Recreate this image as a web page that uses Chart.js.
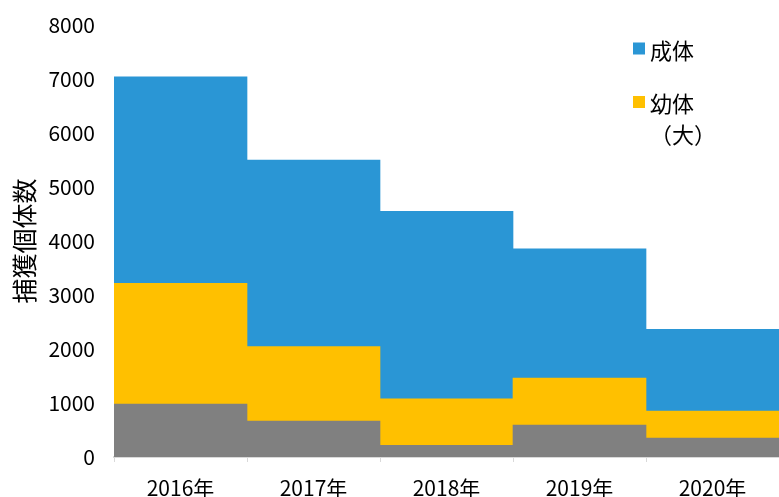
<!DOCTYPE html>
<html>
<head>
  <meta charset="utf-8">
  <title>捕獲個体数</title>
  <style>
    body {
      margin: 0;
      padding: 0;
      background-color: #fff;
    }

    #wrap {
      width: 779px;
      height: 497px;
    }
  </style>
</head>
<body>

<div id="wrap">
  <canvas id="myChart" width="779" height="497"></canvas>
</div>

<script src="https://cdn.jsdelivr.net/npm/chart.js"></script>
<script>
  const years = ['2016年', '2017年', '2018年', '2019年', '2020年'];

  // 下から順に積み上げ
  const smallJuvenile = [980, 665, 215, 590, 350];
  const largeJuvenile = [2235, 1380, 860, 870, 500];
  const adults = [3825, 3455, 3475, 2395, 1515];

  const yTicks = [0, 1000, 2000, 3000, 4000, 5000, 6000, 7000, 8000];

  // 凡例の文字（行ごと）
  const adultLegend = ['成体'];
  const largeJuvenileLegend = ['幼体', '（大）'];

  const fontFamily = '"Noto Sans CJK JP", "Noto Sans", sans-serif';

  // グラフ内右上に凡例を描く
  const insideLegend = {
    id: 'insideLegend',
    afterDraw(chart) {
      const ctx = chart.ctx;
      const items = chart.data.datasets.filter(d => d.legendLines).reverse();
      let y = 48.5;
      ctx.save();
      ctx.font = '22px ' + fontFamily;
      ctx.textBaseline = 'middle';
      items.forEach(d => {
        ctx.fillStyle = d.backgroundColor;
        ctx.fillRect(633, y - 6, 12, 12);
        ctx.fillStyle = '#000';
        d.legendLines.forEach((line, i) => {
          ctx.fillText(line, 650, y + 2 + i * 30.5);
        });
        y += 53.5;
      });
      ctx.restore();
    }
  };

  const ctx = document.getElementById('myChart').getContext('2d');
  const myChart = new Chart(ctx, {
    type: 'bar',
    data: {
      labels: years,
      datasets: [
        {
          label: '',
          data: smallJuvenile,
          backgroundColor: '#808080'
        },
        {
          label: '幼体（大）',
          legendLines: largeJuvenileLegend,
          data: largeJuvenile,
          backgroundColor: '#FFC000'
        },
        {
          label: '成体',
          legendLines: adultLegend,
          data: adults,
          backgroundColor: '#2A96D5'
        }
      ]
    },
    options: {
      responsive: false,
      animation: false,
      layout: {
        padding: { top: 25, right: 0, bottom: 0, left: 0 }
      },
      datasets: {
        bar: {
          barPercentage: 1,
          categoryPercentage: 1,
          borderWidth: 0
        }
      },
      scales: {
        x: {
          stacked: true,
          afterFit: (s) => { s.height = 40; },
          grid: {
            offset: true,
            drawOnChartArea: false,
            tickLength: 5,
            color: '#d9d9d9'
          },
          border: {
            color: '#d9d9d9',
            width: 2
          },
          ticks: {
            color: '#000',
            padding: 13,
            font: { family: fontFamily, size: 21 }
          }
        },
        y: {
          stacked: true,
          min: 0,
          max: 8000,
          afterFit: (s) => {
            s.width = 114;
            s.paddingTop = 0;
            s.paddingBottom = 0;
          },
          afterBuildTicks: (s) => {
            s.ticks = yTicks.map(v => ({ value: v }));
          },
          grid: {
            display: false,
            drawTicks: false
          },
          border: {
            display: false
          },
          ticks: {
            color: '#000',
            padding: 19,
            font: { family: fontFamily, size: 21 },
            callback: (v) => String(v)
          },
          title: {
            display: true,
            text: '捕獲個体数',
            color: '#000',
            padding: { top: 9, bottom: 0 },
            font: { family: fontFamily, size: 25 }
          }
        }
      },
      plugins: {
        legend: { display: false },
        tooltip: { enabled: false }
      }
    },
    plugins: [insideLegend]
  });
</script>
</body>
</html>
